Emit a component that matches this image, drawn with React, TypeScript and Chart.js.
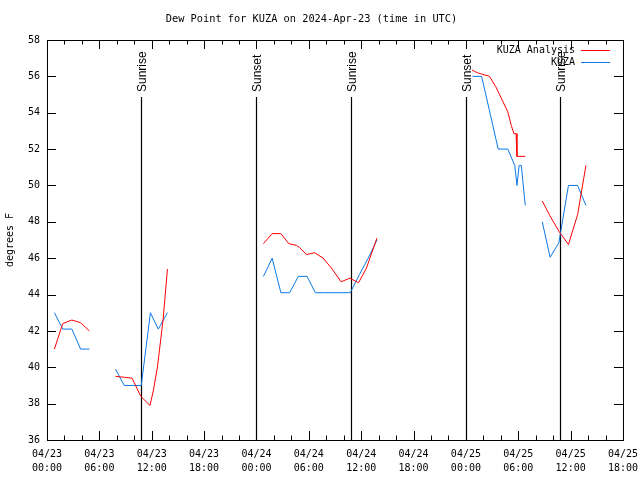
import React, { useEffect, useRef } from "react";
import { Chart, registerables } from "chart.js";

Chart.register(...registerables);

const chartTitle = "Dew Point for KUZA on 2024-Apr-23 (time in UTC)";
const yAxisTitle = "degrees F";

// x axis: hours since 04/23 00:00 UTC
const tickHours = [0, 6, 12, 18, 24, 30, 36, 42, 48, 54, 60, 66];
const tickDates = ["04/23", "04/23", "04/23", "04/23", "04/24", "04/24", "04/24", "04/24", "04/25", "04/25", "04/25", "04/25"];
const tickTimes = ["00:00", "06:00", "12:00", "18:00", "00:00", "06:00", "12:00", "18:00", "00:00", "06:00", "12:00", "18:00"];
const minorTickHours = [2, 4, 8, 10, 14, 16, 20, 22, 26, 28, 32, 34, 38, 40, 44, 46, 50, 52, 56, 58, 62, 64];
const yTicks = [36, 38, 40, 42, 44, 46, 48, 50, 52, 54, 56, 58];

const sunHours = [10.75, 23.97, 34.78, 47.99, 58.8];
const sunLabels = ["Sunrise", "Sunset", "Sunrise", "Sunset", "Sunrise"];

const seriesNames = ["KUZA Analysis", "KUZA"];

// KUZA Analysis (red); null = gap in data
const analysisHours = [
  0.85, 1.8, 2.85, 3.85, 4.85,
  6.0,
  7.85, 8.85, 9.75, 10.75, 11.8, 12.2, 12.65, 13.3, 13.8,
  19.0,
  24.8, 25.8, 26.8, 27.7, 28.6, 28.9, 29.75, 30.65, 31.65, 32.6, 33.7, 34.7, 35.7, 36.6, 37.8,
  43.0,
  48.7, 49.3, 50.7, 51.4, 52.15, 52.8, 53.2, 53.5, 53.75, 53.85, 54.8,
  55.8,
  56.75, 57.6, 58.7, 59.75, 60.8, 61.75,
];
const analysisDewF = [
  41.0, 42.4, 42.6, 42.45, 42.0,
  null,
  39.5, 39.45, 39.4, 38.4, 37.9, 38.75, 40.0, 42.6, 45.4,
  null,
  46.8, 47.35, 47.35, 46.8, 46.7, 46.6, 46.2, 46.3, 46.0, 45.45, 44.7, 44.9, 44.65, 45.45, 47.1,
  null,
  56.35, 56.2, 56.0, 55.45, 54.7, 54.05, 53.3, 52.85, 52.85, 51.6, 51.6,
  null,
  49.15, 48.35, 47.45, 46.75, 48.4, 51.1,
];

// KUZA observations (blue)
const obsHours = [
  0.85, 1.8, 2.85, 3.85, 4.85,
  6.0,
  7.85, 8.85, 9.85, 10.8, 11.85, 12.75, 13.8,
  19.0,
  24.8, 25.8, 26.8, 27.8, 28.8, 29.8, 30.75, 31.8, 32.8, 33.8, 34.75, 35.8, 36.8, 37.8,
  43.0,
  48.75, 49.8, 50.8, 51.7, 52.8, 53.6, 53.85, 54.1, 54.35, 54.8,
  55.8,
  56.75, 57.65, 58.65, 59.75, 60.8, 61.75,
];
const obsDewF = [
  43.0, 42.1, 42.1, 41.0, 41.0,
  null,
  39.9, 39.0, 39.0, 39.0, 43.0, 42.1, 43.0,
  null,
  45.0, 46.0, 44.1, 44.1, 45.0, 45.0, 44.1, 44.1, 44.1, 44.1, 44.1, 45.1, 46.0, 47.0,
  null,
  56.0, 56.0, 53.9, 52.0, 52.0, 51.1, 50.0, 51.1, 51.1, 48.9,
  null,
  48.0, 46.05, 46.85, 50.0, 50.0, 48.9,
];

const RED = "#ff0000";
const BLUE = "#0a78e6";
const MONO = "'DejaVu Sans Mono', monospace";

const framePlugin = {
  id: "frameTicks",
  beforeDatasetsDraw(chart: any) {
    const { ctx, chartArea, scales } = chart;
    const { left, right, top, bottom } = chartArea;
    const x = scales.x;
    const y = scales.y;
    ctx.save();
    ctx.strokeStyle = "#000";
    ctx.lineWidth = 1;
    ctx.beginPath();
    const major = 9;
    const minor = 4.5;
    tickHours.forEach((h) => {
      const px = Math.round(x.getPixelForValue(h)) + 0.5;
      ctx.moveTo(px, bottom);
      ctx.lineTo(px, bottom - major);
      ctx.moveTo(px, top);
      ctx.lineTo(px, top + major);
    });
    minorTickHours.forEach((h) => {
      const px = Math.round(x.getPixelForValue(h)) + 0.5;
      ctx.moveTo(px, bottom);
      ctx.lineTo(px, bottom - minor);
      ctx.moveTo(px, top);
      ctx.lineTo(px, top + minor);
    });
    yTicks.forEach((v) => {
      const py = Math.round(y.getPixelForValue(v)) + 0.5;
      ctx.moveTo(left, py);
      ctx.lineTo(left + major, py);
      ctx.moveTo(right, py);
      ctx.lineTo(right - major, py);
    });
    ctx.stroke();
    ctx.strokeRect(Math.round(left) + 0.5, Math.round(top) + 0.5, Math.round(right - left), Math.round(bottom - top));

    // sunrise / sunset markers
    ctx.lineWidth = 1.2;
    ctx.font = "12px 'Liberation Sans', sans-serif";
    ctx.fillStyle = "#000";
    sunHours.forEach((h, i) => {
      const px = Math.round(x.getPixelForValue(h)) + 0.5;
      ctx.beginPath();
      ctx.moveTo(px, top + 57);
      ctx.lineTo(px, bottom);
      ctx.stroke();
      ctx.save();
      ctx.translate(px + 1, top + 52);
      ctx.rotate(-Math.PI / 2);
      ctx.textAlign = "left";
      ctx.textBaseline = "middle";
      ctx.fillText(sunLabels[i], 0, 0);
      ctx.restore();
    });
    ctx.restore();
  },
  afterDraw(chart: any) {
    const { ctx, chartArea } = chart;
    ctx.save();
    ctx.font = "10px " + MONO;
    ctx.textAlign = "right";
    ctx.textBaseline = "middle";
    chart.data.datasets.forEach((ds: any, i: number) => {
      const yy = chartArea.top + 10 + i * 12;
      ctx.fillStyle = "#000";
      ctx.fillText(ds.label, chartArea.right - 48, yy);
      ctx.strokeStyle = ds.borderColor;
      ctx.lineWidth = 1;
      ctx.beginPath();
      ctx.moveTo(chartArea.right - 42, Math.round(yy) + 0.5);
      ctx.lineTo(chartArea.right - 13, Math.round(yy) + 0.5);
      ctx.stroke();
    });
    ctx.restore();
  },
};

export default function App() {
  const canvasRef = useRef<HTMLCanvasElement | null>(null);

  useEffect(() => {
    if (!canvasRef.current) return;
    const analysisData = analysisHours.map((h, i) => ({ x: h, y: analysisDewF[i] }));
    const obsData = obsHours.map((h, i) => ({ x: h, y: obsDewF[i] }));
    const chart = new Chart(canvasRef.current, {
      type: "line",
      data: {
        datasets: [
          {
            label: seriesNames[0],
            data: analysisData as any,
            borderColor: RED,
            backgroundColor: RED,
            borderWidth: 1,
            pointRadius: 0,
            tension: 0,
            spanGaps: false,
          },
          {
            label: seriesNames[1],
            data: obsData as any,
            borderColor: BLUE,
            backgroundColor: BLUE,
            borderWidth: 1,
            pointRadius: 0,
            tension: 0,
            spanGaps: false,
          },
        ],
      },
      options: {
        responsive: false,
        animation: false,
        devicePixelRatio: 1,
        layout: { padding: { left: 0, right: 17, top: 0, bottom: 0 } },
        plugins: {
          legend: { display: false },
          tooltip: { enabled: false },
          title: {
            display: true,
            text: chartTitle,
            color: "#000",
            font: { family: MONO, size: 10.3, weight: "normal" },
            padding: { top: 13, bottom: 14.64 },
          },
        },
        scales: {
          x: {
            type: "linear",
            min: 0,
            max: 66,
            grid: { display: false, drawTicks: false },
            border: { display: false },
            afterFit: (s: any) => {
              s.height = 40;
              s.paddingLeft = 0;
              s.paddingRight = 0;
            },
            afterBuildTicks: (s: any) => {
              s.ticks = tickHours.map((v) => ({ value: v }));
            },
            ticks: {
              autoSkip: false,
              maxRotation: 0,
              minRotation: 0,
              padding: 8,
              color: "#000",
              font: { family: MONO, size: 10, lineHeight: 1.35 },
              callback: (v: any) => {
                const i = tickHours.indexOf(Number(v));
                return i >= 0 ? [tickDates[i], tickTimes[i]] : "";
              },
            },
          },
          y: {
            type: "linear",
            min: 36,
            max: 58,
            grid: { display: false, drawTicks: false },
            border: { display: false },
            afterFit: (s: any) => {
              s.width = 47;
              s.paddingTop = 0;
              s.paddingBottom = 0;
            },
            afterBuildTicks: (s: any) => {
              s.ticks = yTicks.map((v) => ({ value: v }));
            },
            ticks: {
              padding: 7,
              color: "#000",
              font: { family: MONO, size: 10 },
            },
            title: {
              display: true,
              text: yAxisTitle,
              color: "#000",
              font: { family: MONO, size: 10 },
              padding: { top: 4, bottom: 0 },
            },
          },
        },
      },
      plugins: [framePlugin],
    } as any);
    return () => chart.destroy();
  }, []);

  return (
    <div style={{ position: "absolute", left: 0, top: 0, width: 640, height: 480, background: "#fff" }}>
      <canvas ref={canvasRef} width={640} height={480} />
    </div>
  );
}
